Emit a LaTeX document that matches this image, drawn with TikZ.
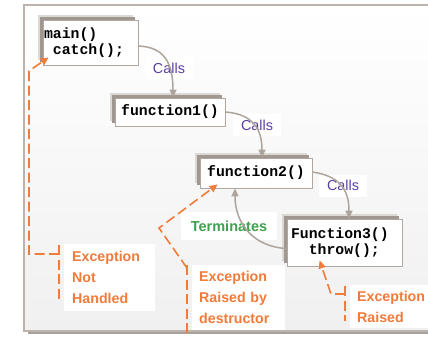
\documentclass[tikz,border=0pt]{standalone}
\usepackage{fontspec}
\setmainfont{Liberation Sans}
\newfontfamily\codefont{Liberation Mono}
\usetikzlibrary{arrows.meta,shadows}
\definecolor{boxline}{HTML}{B0A8A0}
\definecolor{shadowdark}{HTML}{A09890}
\definecolor{shadowlight}{HTML}{DCD8D4}
\definecolor{arrowc}{HTML}{ADA59C}
\definecolor{callc}{HTML}{5B3FA3}
\definecolor{termc}{HTML}{3FA050}
\definecolor{notec}{HTML}{F07B3A}
\definecolor{frameline}{HTML}{BCB4AC}
\definecolor{framesh}{HTML}{A8A09A}
\definecolor{bgbottom}{HTML}{F0F0F0}
\tikzset{
  codebox/.style={draw=boxline, line width=0.8pt, fill=white,
    font=\codefont\bfseries\fontsize{14.8}{16.5}\selectfont,
    general shadow={fill=shadowlight, shadow xshift=-5pt, shadow yshift=5pt},
    general shadow={fill=shadowdark, shadow xshift=-3pt, shadow yshift=3pt}},
  callslbl/.style={fill=white, text=callc, font=\fontsize{14.4}{16}\selectfont,
    minimum width=48pt, minimum height=22pt, inner sep=0pt},
  termlbl/.style={fill=white, text=termc, font=\bfseries\fontsize{14.5}{16}\selectfont,
    minimum width=96pt, minimum height=28pt, inner sep=0pt},
  notelbl/.style={fill=white, text=notec, font=\bfseries\fontsize{14.2}{21}\selectfont,
    align=left, inner ysep=0pt},
  callarrow/.style={draw=arrowc, line width=1.5pt, -{Triangle[length=8pt,width=7pt]}},
  odash/.style={draw=notec, line width=1.6pt, dash pattern=on 10pt off 4.5pt},
  oarrow/.style={odash, -{Triangle[length=8pt,width=7pt]}}
}
\begin{document}
\begin{tikzpicture}[x=1pt,y=-1pt]
\useasboundingbox (0,0) rectangle (428,338);
% frame
\fill[framesh] (28,331) rectangle (430,334);
\shade[top color=white, bottom color=bgbottom] (24,5) rectangle (430,331);
\draw[frameline, line width=1.2pt] (430,5) -- (24,5) -- (24,331) -- (430,331);

% code boxes
\node[codebox, minimum width=95pt, minimum height=45pt, text width=93pt,
  inner xsep=1pt, align=left] (main) at (90.5,42.5)
  {main()\\\hspace*{0.6em}catch();};
\node[codebox, minimum width=110pt, minimum height=28pt] (f1) at (170,112) {function1()};
\node[codebox, minimum width=112pt, minimum height=30pt] (f2) at (256,173) {function2()};
\node[codebox, minimum width=115pt, minimum height=47pt, text width=107pt,
  inner xsep=4pt, align=left] (f3) at (344.5,242.5)
  {Function3()\\\hspace*{1.2em}throw();};

% labels
\node[callslbl] (c1) at (169,68) {Calls};
\node[callslbl] (c2) at (257,125) {Calls};
\node[callslbl] (c3) at (343,185.5) {Calls};
\node[termlbl] (term) at (229,226) {Terminates};

% notes
\node[notelbl, anchor=west, text width=75pt, inner xsep=8pt, minimum height=67pt]
  (n1) at (64,277.5) {Exception\\Not\\Handled};
\node[notelbl, anchor=west, text width=79pt, inner xsep=7pt, minimum height=65pt]
  (n2) at (192,297.5) {Exception\\Raised by\\destructor};
\node[notelbl, anchor=west, text width=71pt, inner xsep=7pt, minimum height=43pt]
  (n3) at (350,306.5) {Exception\\Raised};

% call arrows
\draw[callarrow] ([yshift=-3.5pt]main.east) .. controls (162,47) and (173,60) .. ([xshift=3pt]f1.north);
\draw[callarrow] (f1.east) .. controls (252,114) and (262,128) .. ([xshift=6pt]f2.north);
\draw[callarrow] ([yshift=1pt]f2.east) .. controls (340,176) and (349,190) .. ([xshift=4.5pt]f3.north);
\draw[callarrow] ([yshift=-6pt]f3.west) .. controls (255,247) and (235,225) .. ([xshift=-21pt]f2.south);

% exception paths
\coordinate (b1) at (59,254);
\coordinate (b2) at (187,268);
\coordinate (b3) at (345,294);
\draw[odash] (59,245) -- (59,303);
\draw[oarrow] (b1) -- (29,254) -- (29,71) -- ([shift={(6,-8)}]main.south west);
\draw[odash] (187,265) -- (187,336);
\draw[oarrow] (b2) -- (159,228) -- ([shift={(18,-4)}]f2.south west);
\draw[odash] (345,286) -- (345,321);
\draw[oarrow] (b3) -- (331,294) -- ([shift={(33,-6)}]f3.south west);
\end{tikzpicture}
\end{document}
